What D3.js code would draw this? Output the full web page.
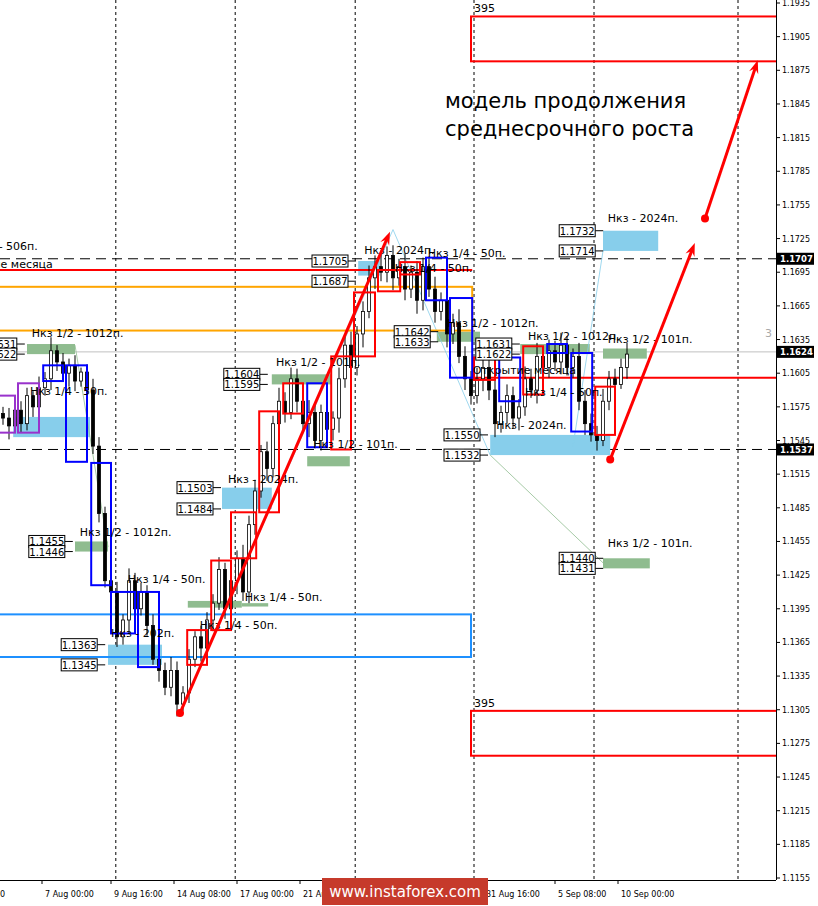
<!DOCTYPE html>
<html><head><meta charset="utf-8">
<script src="https://cdn.jsdelivr.net/npm/d3@7"></script>
<style>body{margin:0;background:#fff}svg{display:block}</style>
</head><body><svg id="c" width="818" height="906"></svg>
<script>
// ---- data ----
const closes=[1.1565,1.1558,1.1572,1.1560,1.1585,1.1575,1.1592,1.1600,1.1625,1.1615,1.1605,1.1612,1.1598,1.1606,1.1590,1.1540,1.1480,1.1420,1.1410,1.1370,1.1385,1.1420,1.1395,1.1410,1.1380,1.1350,1.1340,1.1325,1.1340,1.1310,1.1320,1.1350,1.1370,1.1360,1.1385,1.1400,1.1430,1.1395,1.1420,1.1440,1.1410,1.1470,1.1500,1.1535,1.1520,1.1560,1.1580,1.1570,1.1600,1.1580,1.1560,1.1570,1.1545,1.1570,1.1555,1.1565,1.1600,1.1630,1.1610,1.1640,1.1660,1.1690,1.1700,1.1695,1.1710,1.1690,1.1700,1.1680,1.1695,1.1670,1.1700,1.1680,1.1660,1.1670,1.1640,1.1650,1.1620,1.1600,1.1585,1.1600,1.1610,1.1590,1.1560,1.1570,1.1585,1.1565,1.1575,1.1600,1.1590,1.1620,1.1610,1.1625,1.1615,1.1630,1.1610,1.1620,1.1580,1.1560,1.1550,1.1545,1.1580,1.1600,1.1595,1.1610,1.1622];
const wicks=[6,9,5,8,7,4,10,6,12,5,8,6,9,4,7,10,8,6,12,9,5,11,7,8,6,10,9,7,12,8,6,9,5,10,7,8,11,6,9,7,12,8,10,6,9,7,12,8,10,9,6,11,8,7,9,6,10,8,12,7,9,11,10,13,8,9,7,12,6,10,8,9,11,7,10,8,12,9,7,10,8,12,9,6,10,8,7,11,9,12,8,10,9,11,8,7,12,10,9,8,11,7,9,8,10];
const priceTicks=[1.1935,1.1905,1.1875,1.1845,1.1815,1.1785,1.1755,1.1725,1.1695,1.1665,1.1635,1.1605,1.1575,1.1545,1.1515,1.1485,1.1455,1.1425,1.1395,1.1365,1.1335,1.1305,1.1275,1.1245,1.1215,1.1185,1.1155];
const markedPrices=[[1.1707,"1.1707"],[1.1624,"1.1624"],[1.1537,"1.1537"]];
const timeLabels=[["0",-1],["7 Aug 00:00",6.5],["9 Aug 16:00",18],["14 Aug 08:00",28.5],["17 Aug 00:00",39],["21 Aug 16:00",49.5],["31 Aug 16:00",80],["5 Sep 08:00",92],["10 Sep 00:00",102.5]];
const vGrid=[18.8,38.7,58.7,78.5,98.5,122.5];
const redBoxes=[[30.7,34,1.1376,1.1345],[34.7,38,1.1438,1.1376],[38,42.2,1.1481,1.1440],[42.7,46,1.1571,1.1481],[46.7,50,1.1596,1.1569],[54.7,58,1.1620,1.1537],[58.5,62,1.1677,1.1620],[62.5,66.2,1.1697,1.1678],[66.2,69.5,1.1704,1.1693],[78.5,82,1.1619,1.1599],[86.7,90,1.1629,1.1586],[98.7,102,1.1593,1.1550]];
const blueBoxes=[[6.7,10,1.1612,1.1598],[10.5,14,1.1612,1.1526],[14.7,18,1.1525,1.1416],[18,22,1.1410,1.1373],[22.5,26,1.1410,1.1343],[50.7,54,1.1596,1.1539],[70.5,74,1.1708,1.1670],[74.5,78.2,1.1672,1.1601],[82.7,86.2,1.1619,1.1580],[90.7,94,1.1631,1.1623],[94.7,98.2,1.1623,1.1553]];
const purpleBoxes=[[2.5,6,1.1596,1.1552],[-1,2,1.1585,1.1552]];
const blueZones=[[100,109.2,1.1732,1.1714],[81.2,101.2,1.1550,1.1532],[1.7,14.5,1.1566,1.1548],[36.5,44.8,1.1503,1.1484],[17.5,26.5,1.1363,1.1345],[59.2,62.8,1.1705,1.1692]];
const greenZones=[[4,12,1.1631,1.1622],[12,17.5,1.1455,1.1446],[44.8,54.8,1.1604,1.1595],[50.7,57.8,1.1531,1.1522],[72.3,79.5,1.1642,1.1633],[100,107.3,1.1627,1.1618],[100,107.8,1.1440,1.1431],[86.2,97.8,1.1631,1.1622],[30.8,39.8,1.1402,1.1396],[39.8,44.2,1.1400,1.1397]];
const tags=[["1.1732",98.7,1.1732],["1.1714",98.7,1.1714],["1.1705",57.5,1.1705],["1.1687",57.5,1.1687],["1.1642",71.2,1.1642],["1.1633",71.2,1.1633],["1.1631",84.8,1.1631],["1.1622",84.8,1.1622],["1.1604",42.8,1.1604],["1.1595",42.8,1.1595],["1.1550",79.5,1.1550],["1.1532",79.5,1.1532],["1.1503",35,1.1503],["1.1484",35,1.1484],["1.1455",10.3,1.1455],["1.1446",10.3,1.1446],["1.1440",98.7,1.1440],["1.1431",98.7,1.1431],["1.1363",15.7,1.1363],["1.1345",15.7,1.1345],["1.1631",2.3,1.1631],["1.1622",2.3,1.1622]];
const notes=[["Нкз 1/2 - 1012п.",4.8,1.1637],["Нкз 1/2 - 1012п.",12.8,1.1460],["Нкз 1/4 - 50п.",20.8,1.1418],["Нкз 1/4 - 50п.",40.3,1.1402],["Нкз 1/4 - 50п.",32.8,1.1377],["Нкз - 202п.",18,1.1370],["Нкз - 2024п.",37.5,1.1507],["Нкз 1/2 - 101п.",45.5,1.1611],["Нкз 1/2 - 101п.",51.7,1.1538],["Нкз - 2024п.",60.2,1.1711],["Нкз 1/4 - 50п.",70.8,1.1709],["Нкз 1/4 - 50п.",65.3,1.1695],["Нкз 1/2 - 1012п.",74,1.1646],["Нкз 1/2 - 1012п.",87.5,1.1635],["Нкз 1/2 - 101п.",100.8,1.1632],["Нкз - 2024п.",100.8,1.1740],["Нкз - 2024п.",82.2,1.1555],["Нкз 1/4 - 50п.",87,1.1585],["Нкз 1/2 - 101п.",100.8,1.1450],["Нкз 1/4 - 50п.",4.5,1.1586],["Открытие месяца",78.3,1.1604],["Нкз - 506п.",5.8,1.1715],["Открытие месяца",8.3,1.1699]];
const arrows=[[29.5,1.1302,64.5,1.1731],[101.2,1.1528,115.3,1.1721],[117,1.1743,125.8,1.1884]];
const thinLines=[[29.5,1.1302,65,1.1733,"#87ceeb"],[65,1.1733,81.2,1.1532,"#87ceeb"],[81.2,1.1532,100,1.1436,"#8fbc8f"],[95,1.1540,100,1.1714,"#87ceeb"],[12,1.1630,17.5,1.1450,"#8fbc8f"]];
// ---- drawing ----
const svg=d3.select("#c");
const W=776,H=880;
const x=d3.scaleLinear().domain([0,104]).range([3,627]);
const y=d3.scaleLinear().domain([1.1155,1.1935]).range([878,3]);
const g=svg.append("g");
svg.append("clipPath").attr("id","cl").append("rect").attr("width",W).attr("height",H);
const p=g.append("g").attr("clip-path","url(#cl)");
const F="DejaVu Sans, sans-serif";
vGrid.forEach(v=>p.append("line").attr("x1",x(v)).attr("x2",x(v)).attr("y1",0).attr("y2",H).attr("stroke","#000").attr("stroke-dasharray","3,3"));
p.append("line").attr("x1",0).attr("x2",W).attr("y1",y(1.1624)).attr("y2",y(1.1624)).attr("stroke","#c0c0c0");
[1.1707,1.1537].forEach(v=>p.append("line").attr("x1",0).attr("x2",W).attr("y1",y(v)).attr("y2",y(v)).attr("stroke","#000").attr("stroke-dasharray","10,6"));
const zone=(arr,c)=>arr.forEach(d=>p.append("rect").attr("x",x(d[0])).attr("width",x(d[1])-x(d[0])).attr("y",y(d[2])).attr("height",y(d[3])-y(d[2])).attr("fill",c));
zone(blueZones,"#87ceeb");zone(greenZones,"#8fbc8f");
thinLines.forEach(d=>p.append("line").attr("x1",x(d[0])).attr("y1",y(d[1])).attr("x2",x(d[2])).attr("y2",y(d[3])).attr("stroke",d[4]).attr("stroke-width",0.8));
p.append("rect").attr("x",x(-1)).attr("width",x(78.2)-x(-1)).attr("y",y(1.1682)).attr("height",y(1.1643)-y(1.1682)).attr("fill","none").attr("stroke","#ffa500").attr("stroke-width",2);
p.append("rect").attr("x",x(-1)).attr("width",x(78)-x(-1)).attr("y",y(1.1390)).attr("height",y(1.1352)-y(1.1390)).attr("fill","none").attr("stroke","#1e90ff").attr("stroke-width",2);
p.append("line").attr("x1",0).attr("x2",x(78.2)).attr("y1",y(1.1697)).attr("y2",y(1.1697)).attr("stroke","red").attr("stroke-width",2);
p.append("line").attr("x1",x(78.2)).attr("x2",W).attr("y1",y(1.1601)).attr("y2",y(1.1601)).attr("stroke","red").attr("stroke-width",2);
[[1.1923,1.1883],[1.1304,1.1264]].forEach(d=>{
 p.append("rect").attr("x",x(78)).attr("width",W-x(78)+5).attr("y",y(d[0])).attr("height",y(d[1])-y(d[0])).attr("fill","none").attr("stroke","red").attr("stroke-width",2);
 p.append("text").attr("x",x(78)+3).attr("y",y(d[0])-4).text("395").attr("font-family",F).attr("font-size",11);
});
closes.forEach((c,i)=>{
 const o=i?closes[i-1]:c+0.0004; const hi=Math.max(o,c)+wicks[i]*0.0001, lo=Math.min(o,c)-wicks[(i+7)%wicks.length]*0.0001;
 p.append("line").attr("x1",x(i)).attr("x2",x(i)).attr("y1",y(hi)).attr("y2",y(lo)).attr("stroke","#000");
 const t=y(Math.max(o,c)),b=y(Math.min(o,c));
 p.append("rect").attr("x",x(i)-1.5).attr("width",3).attr("y",t).attr("height",Math.max(1,b-t)).attr("fill",c<o?"#000":"#fff").attr("stroke","#000").attr("stroke-width",0.8);
});
const box=(arr,c)=>arr.forEach(d=>p.append("rect").attr("x",x(d[0])).attr("width",x(d[1])-x(d[0])).attr("y",y(d[2])).attr("height",y(d[3])-y(d[2])).attr("fill","none").attr("stroke",c).attr("stroke-width",2));
box(redBoxes,"red");box(blueBoxes,"#0000ff");box(purpleBoxes,"#9932cc");
tags.forEach(d=>{
 const xr=x(d[1]);
 p.append("line").attr("x1",xr).attr("x2",xr+8).attr("y1",y(d[2])).attr("y2",y(d[2])).attr("stroke","#000");
 p.append("rect").attr("x",xr-36).attr("y",y(d[2])-6).attr("width",36).attr("height",12).attr("fill","#fff").attr("stroke","#000");
 p.append("text").attr("x",xr-18).attr("y",y(d[2])+4).attr("text-anchor","middle").text(d[0]).attr("font-family",F).attr("font-size",10);
});
notes.forEach(d=>p.append("text").attr("x",x(d[1])).attr("y",y(d[2])).text(d[0]).attr("font-family",F).attr("font-size",11).attr("text-anchor",d[0].startsWith("Открытие")&&d[1]<10||d[0]=="Нкз - 506п."?"end":"start"));
p.append("text").attr("x",765).attr("y",y(1.1637)).text("3").attr("fill","#aaa").attr("font-family",F).attr("font-size",11);
const ar=p.append("g");
arrows.forEach(d=>{
 const x1=x(d[0]),y1=y(d[1]),x2=x(d[2]),y2=y(d[3]);
 const a=Math.atan2(y2-y1,x2-x1),L=14;
 ar.append("line").attr("x1",x1).attr("y1",y1).attr("x2",x2-Math.cos(a)*6).attr("y2",y2-Math.sin(a)*6).attr("stroke","red").attr("stroke-width",3);
 ar.append("path").attr("d",`M${x2},${y2}L${x2-L*Math.cos(a-0.35)},${y2-L*Math.sin(a-0.35)}L${x2-L*0.6*Math.cos(a)},${y2-L*0.6*Math.sin(a)}L${x2-L*Math.cos(a+0.35)},${y2-L*Math.sin(a+0.35)}Z`).attr("fill","red");
 ar.append("circle").attr("cx",x1).attr("cy",y1).attr("r",4).attr("fill","red");
});
p.append("text").attr("x",445).attr("y",108).text("модель продолжения").attr("font-family",F).attr("font-size",21);
p.append("text").attr("x",445).attr("y",136).text("среднесрочного роста").attr("font-family",F).attr("font-size",21);
svg.append("line").attr("x1",W+0.5).attr("x2",W+0.5).attr("y1",0).attr("y2",H).attr("stroke","#000");
svg.append("line").attr("x1",0).attr("x2",W).attr("y1",H+0.5).attr("y2",H+0.5).attr("stroke","#000");
priceTicks.forEach(v=>{svg.append("line").attr("x1",W).attr("x2",W+4).attr("y1",y(v)).attr("y2",y(v)).attr("stroke","#000");
 svg.append("text").attr("x",782).attr("y",y(v)+3).text(v.toFixed(4)).attr("font-family",F).attr("font-size",8);});
markedPrices.forEach(d=>{svg.append("rect").attr("x",777).attr("y",y(d[0])-6).attr("width",37).attr("height",12).attr("fill","#000");
 svg.append("text").attr("x",780).attr("y",y(d[0])+3.5).text(d[1]).attr("fill","#fff").attr("font-family",F).attr("font-size",8.5).attr("font-weight","bold");});
timeLabels.forEach(d=>{svg.append("line").attr("x1",x(d[1])).attr("x2",x(d[1])).attr("y1",H).attr("y2",H+4).attr("stroke","#000");
 svg.append("text").attr("x",x(d[1])+3).attr("y",897).text(d[0]).attr("font-family",F).attr("font-size",8);});
svg.append("rect").attr("x",322).attr("y",878).attr("width",166).attr("height",27).attr("fill","#c63a2b");
svg.append("text").attr("x",405).attr("y",897).attr("text-anchor","middle").text("www.instaforex.com").attr("fill","#fff").attr("font-family",F).attr("font-size",15);
</script></body></html>
